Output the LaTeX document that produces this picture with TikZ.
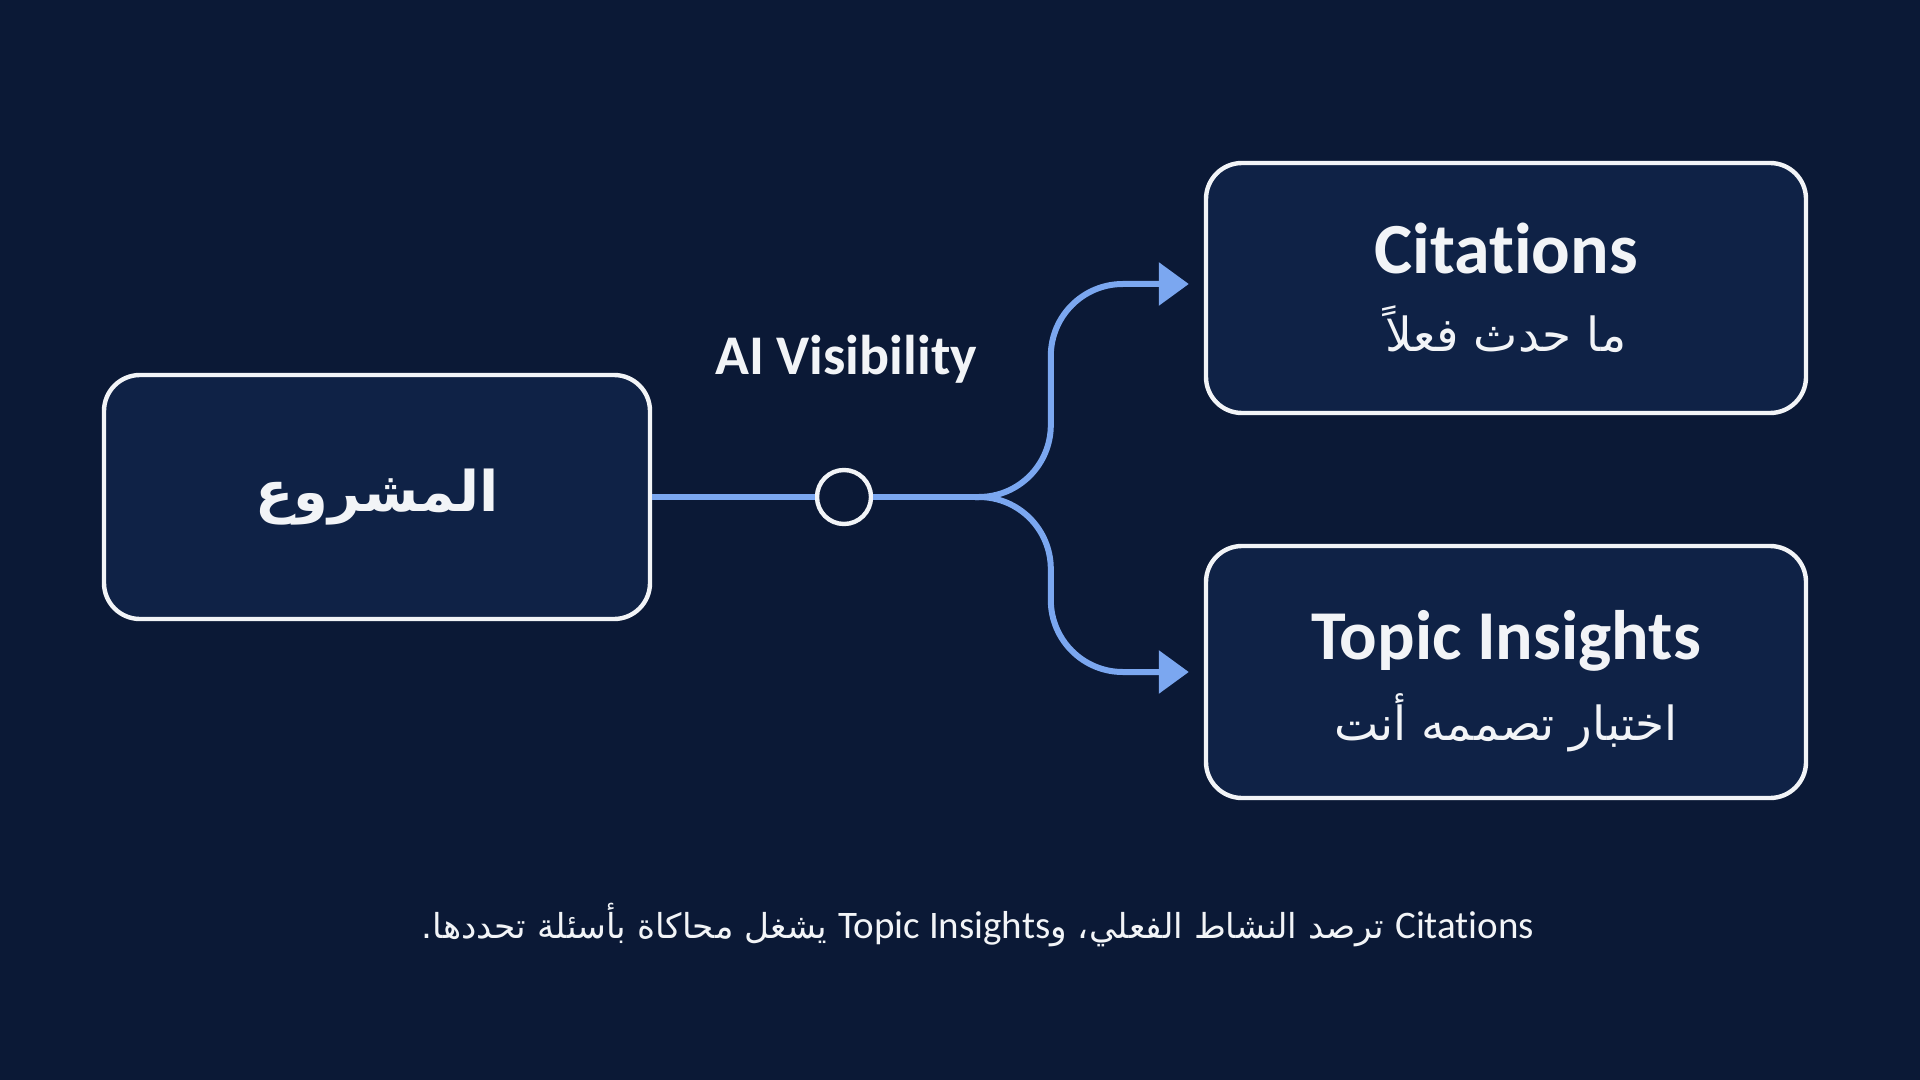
\documentclass[tikz,border=0pt]{standalone}
\usepackage{fontspec}
\setmainfont{Carlito}[Ligatures=NoCommon]
\newfontfamily\arabicfont[Script=Arabic]{DejaVu Sans}
\TeXXeTstate=1
\usetikzlibrary{positioning,arrows.meta}
\definecolor{bgnavy}{HTML}{0B1936}
\definecolor{boxnavy}{HTML}{0F2246}
\definecolor{linkblue}{HTML}{7BA7F0}
\definecolor{textwhite}{HTML}{F2F4F7}

\begin{document}
\begin{tikzpicture}[x=0.5pt,y=-0.5pt,
			box/.style={draw=textwhite,fill=boxnavy,line width=2.2pt,rounded corners=18pt,
				minimum width=300pt,minimum height=125pt,align=center,text=textwhite},
			link/.style={draw=linkblue,line width=3pt},
			branch/.style={link,rounded corners=36pt,-{Triangle[length=15pt,width=21pt]},shorten >=7.5pt}]
			\fill[bgnavy] (0,0) rectangle (1920,1080);
			\useasboundingbox (0,0) rectangle (1920,1080);
			% boxes
			\node (proj) [box,minimum width=273pt,minimum height=122pt] at (377,497)
				{\arabicfont\bfseries\fontsize{28}{34}\selectfont\beginR المشروع\endR};
			\node (cit) [box] at (1506,288)
				{\bfseries\fontsize{36}{40}\selectfont Citations\\[15pt]
				 \arabicfont\fontsize{23.5}{28}\selectfont\beginR ما حدث فعلاً\endR};
			\node (topic) [box,minimum height=126pt] at (1506,672)
				{\rule{0pt}{34pt}\bfseries\fontsize{35}{40}\selectfont Topic Insights\\[10pt]
				 \arabicfont\fontsize{23.5}{28}\selectfont\beginR اختبار تصممه أنت\endR};
			% junction
			\node (vis) [circle,draw=textwhite,fill=bgnavy,line width=2.2pt,minimum size=27pt,inner sep=0pt] at (844,497) {};
			\node (vislabel) [text=textwhite,font=\bfseries\fontsize{28}{32}\selectfont] at (846,359) {AI Visibility};
			\coordinate (fork) at (975,497);
			\draw[link] (proj) -- (vis) -- (fork);
			\draw[branch] (fork) -| ([xshift=-76.5pt,yshift=2pt]cit.west) -- ([yshift=2pt]cit.west);
			\draw[branch] (fork) -| ([xshift=-76.5pt]topic.west) -- (topic.west);
			% caption
			\node (caption) [text=textwhite] at (978,925)
				{\arabicfont\fontsize{17.2}{22}\selectfont\beginR{\rmfamily\fontsize{19.5}{22}\selectfont\beginL Citations\endL} ترصد النشاط الفعلي، و{\rmfamily\fontsize{19.5}{22}\selectfont\beginL Topic Insights\endL} يشغل محاكاة بأسئلة تحددها.\endR};
		\end{tikzpicture}
\end{document}
